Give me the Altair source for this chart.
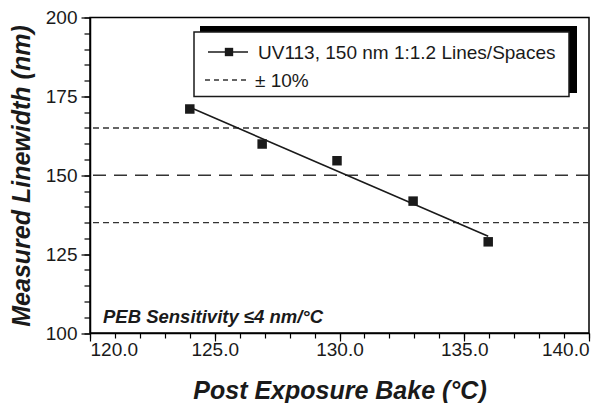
import altair as alt
import pandas as pd

# Data
peb_temp = [124.0, 126.9, 129.9, 132.95, 135.96]
linewidth = [171.0, 159.9, 154.6, 141.8, 128.9]
limit_values = [165, 135]
target_value = [150]
x_major = [120, 125, 130, 135, 140]
x_minor = list(range(120, 141))
y_major = [100, 125, 150, 175, 200]
y_minor = list(range(100, 201, 5))

FONT = "Liberation Sans"
INK = "#1a1a1a"

pts = pd.DataFrame({"x": peb_temp, "y": linewidth})
lim = pd.DataFrame({"y": limit_values})
tgt = pd.DataFrame({"y": target_value})
one = pd.DataFrame({"a": [0]})

xs = alt.Scale(domain=[120, 140], nice=False, zero=False)
ys = alt.Scale(domain=[100, 200], nice=False, zero=False)

x_major_axis = alt.Axis(values=x_major, format=".1f", tickSize=8, labelPadding=-1,
                        grid=False, orient="bottom",
                        title="Post Exposure Bake (°C)", titlePadding=19)
y_major_axis = alt.Axis(values=y_major, tickSize=9, labelPadding=4, grid=False,
                        orient="left", titleY=158,
                        title="Measured Linewidth (nm)", titlePadding=11)
x_minor_axis = alt.Axis(values=x_minor, tickSize=5, labels=False, domain=False,
                        grid=False, orient="bottom", title=None)
y_minor_axis = alt.Axis(values=y_minor, tickSize=6, labels=False, domain=False,
                        grid=False, orient="left", title=None)

fit = alt.Chart(pts).transform_regression("x", "y").mark_line(
    color=INK, strokeWidth=1.6
).encode(
    x=alt.X("x:Q", scale=xs, axis=x_major_axis),
    y=alt.Y("y:Q", scale=ys, axis=y_major_axis),
)

points = alt.Chart(pts).mark_point(
    shape="square", filled=True, size=90, color=INK, opacity=1
).encode(
    x=alt.X("x:Q", scale=xs, axis=x_minor_axis),
    y=alt.Y("y:Q", scale=ys, axis=y_minor_axis),
)

limits = alt.Chart(lim).mark_rule(
    color="#333333", strokeWidth=1.4, strokeDash=[6, 4]
).encode(y=alt.Y("y:Q", scale=ys, axis=None))

target = alt.Chart(tgt).mark_rule(
    color="#333333", strokeWidth=1.4, strokeDash=[13, 8]
).encode(y=alt.Y("y:Q", scale=ys, axis=None))

# Custom legend box with drop shadow (pixel offsets inside the plot area)
shadow = alt.Chart(one).mark_rect(color="black").encode(
    x=alt.value(110), x2=alt.value(487), y=alt.value(8.5), y2=alt.value(75.5)
)
box = alt.Chart(one).mark_rect(fill="white", stroke=INK, strokeWidth=1.5).encode(
    x=alt.value(104), x2=alt.value(479), y=alt.value(14.5), y2=alt.value(79)
)
leg_line = alt.Chart(one).mark_rule(color=INK, strokeWidth=1.6).encode(
    x=alt.value(118), x2=alt.value(158), y=alt.value(34.5)
)
leg_pt = alt.Chart(one).mark_point(
    shape="square", filled=True, size=70, color=INK, opacity=1
).encode(x=alt.value(139), y=alt.value(34.5))
leg_dash = alt.Chart(one).mark_rule(
    color="#333333", strokeWidth=1.4, strokeDash=[5, 4]
).encode(x=alt.value(115), x2=alt.value(158), y=alt.value(62.5))
leg_t1 = alt.Chart(one).mark_text(
    text="UV113, 150 nm 1:1.2 Lines/Spaces", align="left", baseline="middle",
    font=FONT, fontSize=19, color=INK
).encode(x=alt.value(168), y=alt.value(35))
leg_t2 = alt.Chart(one).mark_text(
    text="± 10%", align="left", baseline="middle",
    font=FONT, fontSize=19, color=INK
).encode(x=alt.value(165), y=alt.value(63))

note = alt.Chart(one).mark_text(
    text="PEB Sensitivity ≤4 nm/°C", align="left", baseline="alphabetic",
    font=FONT, fontSize=18.5, fontStyle="italic", fontWeight="bold", color=INK
).encode(x=alt.value(13), y=alt.value(305.5))

chart = alt.layer(
    limits, target, fit, points, shadow, box, leg_line, leg_pt, leg_dash,
    leg_t1, leg_t2, note
).resolve_axis(
    x="independent", y="independent"
).properties(
    width=499, height=315.5,
    autosize=alt.AutoSizeParams(type="none"),
    padding={"left": 82, "top": 9.5, "right": 14, "bottom": 70},
).configure_view(
    stroke="black", strokeWidth=1.5
).configure_axis(
    labelFont=FONT, labelFontSize=19, labelColor=INK,
    titleFont=FONT, titleFontSize=25, titleFontStyle="italic",
    titleFontWeight="bold", titleColor=INK,
    domainColor="black", domainWidth=1.5, tickColor="black", tickWidth=1.2,
)

chart.save("out.html", embed_options={"renderer": "svg", "actions": False})
